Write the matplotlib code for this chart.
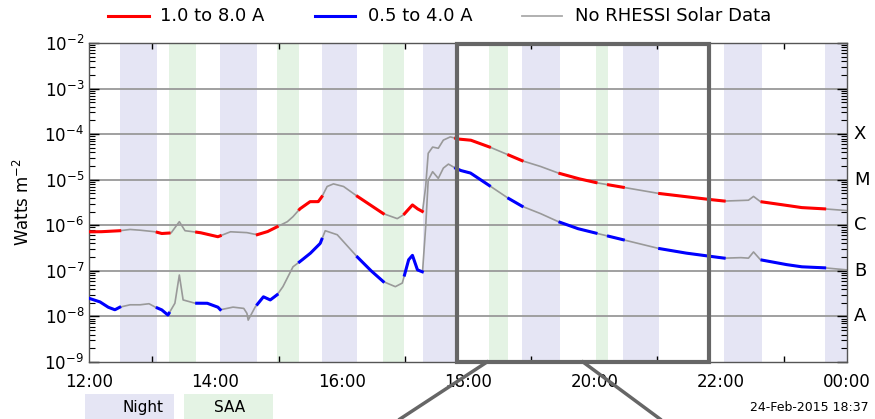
import numpy as np
import matplotlib.pyplot as plt
from matplotlib.ticker import LogLocator, NullFormatter, FixedLocator

# GOES X-ray flux, 24-Feb-2015, hours UT (12 = 12:00, 24 = 00:00)
t_long = [12.00, 12.17, 12.49, 12.65, 12.81, 13.05, 13.15, 13.30, 13.43, 13.52,
          13.76, 14.04, 14.24, 14.50, 14.66, 14.82, 14.98, 15.14, 15.23, 15.34,
          15.50, 15.63, 15.69, 15.77, 15.87, 16.03, 16.25, 16.45, 16.66, 16.88,
          16.98, 17.12, 17.20, 17.28, 17.33, 17.37, 17.44, 17.53, 17.61, 17.72,
          17.85, 18.04, 18.36, 18.64, 18.86, 19.15, 19.43, 19.73, 20.05, 20.46,
          21.02, 21.41, 21.81, 22.06, 22.32, 22.44, 22.52, 22.63, 23.00, 23.27,
          23.63, 24.00]
flux_long = [7.2e-7, 7.2e-7, 7.6e-7, 8.1e-7, 7.8e-7, 7.2e-7, 6.6e-7, 6.8e-7, 1.2e-6, 7.6e-7,
             6.9e-7, 5.6e-7, 7.2e-7, 6.9e-7, 6.2e-7, 7.2e-7, 9.3e-7, 1.2e-6, 1.55e-6, 2.3e-6,
             3.3e-6, 3.3e-6, 4.3e-6, 7.1e-6, 8.1e-6, 7.1e-6, 4.3e-6, 2.8e-6, 1.8e-6, 1.4e-6,
             1.7e-6, 2.8e-6, 2.3e-6, 2.0e-6, 7.1e-6, 3.8e-5, 5.2e-5, 4.9e-5, 7.4e-5, 8.7e-5,
             7.8e-5, 7.4e-5, 5.1e-5, 3.5e-5, 2.6e-5, 1.95e-5, 1.4e-5, 1.07e-5, 8.5e-6, 6.8e-6,
             5.0e-6, 4.3e-6, 3.7e-6, 3.4e-6, 3.5e-6, 3.55e-6, 4.3e-6, 3.3e-6, 2.8e-6, 2.45e-6,
             2.3e-6, 2.1e-6]

t_short = [12.00, 12.17, 12.30, 12.41, 12.49, 12.65, 12.81, 12.95, 13.05, 13.15,
           13.25, 13.36, 13.43, 13.49, 13.68, 13.87, 14.04, 14.08, 14.28, 14.45,
           14.50, 14.52, 14.63, 14.76, 14.87, 14.98, 15.07, 15.23, 15.34, 15.50,
           15.66, 15.74, 15.93, 16.25, 16.45, 16.66, 16.85, 16.96, 17.06, 17.12,
           17.20, 17.28, 17.33, 17.37, 17.44, 17.53, 17.61, 17.69, 17.80, 17.88,
           18.04, 18.36, 18.64, 18.86, 19.15, 19.43, 19.73, 20.05, 20.46, 21.02,
           21.41, 21.81, 22.06, 22.32, 22.44, 22.52, 22.63, 23.00, 23.27, 23.63,
           24.00]
flux_short = [2.5e-8, 2.1e-8, 1.6e-8, 1.4e-8, 1.6e-8, 1.8e-8, 1.8e-8, 1.9e-8, 1.6e-8, 1.4e-8,
              1.07e-8, 1.95e-8, 8.1e-8, 2.3e-8, 1.95e-8, 1.95e-8, 1.6e-8, 1.4e-8, 1.6e-8, 1.5e-8,
              1.17e-8, 8.3e-9, 1.6e-8, 2.7e-8, 2.3e-8, 3.0e-8, 4.5e-8, 1.23e-7, 1.6e-7, 2.4e-7,
              4.0e-7, 7.6e-7, 6.2e-7, 2.0e-7, 1.05e-7, 5.8e-8, 4.5e-8, 5.4e-8, 1.75e-7, 2.2e-7,
              1.05e-7, 9.5e-8, 9.3e-7, 9.8e-6, 1.5e-5, 1.07e-5, 1.8e-5, 2.2e-5, 1.8e-5, 1.6e-5,
              1.4e-5, 7.1e-6, 3.9e-6, 2.6e-6, 1.8e-6, 1.2e-6, 8.5e-7, 6.6e-7, 4.8e-7, 3.1e-7,
              2.5e-7, 2.1e-7, 1.9e-7, 1.95e-7, 1.9e-7, 2.6e-7, 1.75e-7, 1.4e-7, 1.23e-7, 1.17e-7,
              1.05e-7]

# spacecraft night and SAA intervals (hours UT)
night = [(12.49, 13.08), (14.08, 14.66), (15.69, 16.25), (17.28, 17.80),
         (18.86, 19.45), (20.46, 21.03), (22.06, 22.65), (23.65, 24.0)]
saa = [(13.27, 13.70), (14.98, 15.33), (16.66, 16.99), (18.34, 18.64), (20.03, 20.22)]

tick_hours = [12, 14, 16, 18, 20, 22, 24]
tick_labels = ['12:00', '14:00', '16:00', '18:00', '20:00', '22:00', '00:00']
flare_classes = ['X', 'M', 'C', 'B', 'A']
flare_levels = [1e-4, 1e-5, 1e-6, 1e-7, 1e-8]

NIGHT_C = '#e5e5f4'
SAA_C = '#e4f3e4'

fig = plt.figure(figsize=(8.75, 4.19), dpi=100)
ax = fig.add_axes([89 / 875, 57 / 419, 758 / 875, 319 / 419])

for a, b in night:
    ax.axvspan(a, b, color=NIGHT_C, lw=0, zorder=0)
for a, b in saa:
    ax.axvspan(a, b, color=SAA_C, lw=0, zorder=0)

for lev in [1e-3, 1e-4, 1e-5, 1e-6, 1e-7, 1e-8]:
    ax.axhline(lev, color='#999999', lw=1.3, zorder=1)


def in_gap(t):
    t = np.asarray(t)
    m = np.zeros(t.shape, bool)
    for a, b in night + saa:
        m |= (t > a) & (t < b)
    return m


def plot_channel(t, f, color):
    t = np.array(t)
    f = np.array(f)
    ax.plot(t, f, color='#999999', lw=1.2, zorder=2)
    # colour only where RHESSI has data (outside night/SAA)
    tt = np.linspace(t[0], t[-1], 2000)
    ff = 10 ** np.interp(tt, t, np.log10(f))
    ff = np.ma.masked_where(in_gap(tt), ff)
    ax.plot(tt, ff, color=color, lw=2.2, zorder=3)


plot_channel(t_long, flux_long, '#ff0000')
plot_channel(t_short, flux_short, '#0000ff')

ax.set_yscale('log')
ax.set_ylim(1e-9, 1e-2)
ax.set_xlim(12, 24)
ax.set_xticks(tick_hours)
ax.set_xticklabels(tick_labels)
ax.xaxis.set_minor_locator(FixedLocator(np.arange(12, 25, 1)))
ax.yaxis.set_major_locator(LogLocator(base=10, numticks=10))
ax.yaxis.set_minor_locator(LogLocator(base=10, subs=np.arange(2, 10), numticks=20))
ax.yaxis.set_minor_formatter(NullFormatter())
ax.tick_params(axis='y', which='major', direction='in', length=7, width=1,
               left=True, right=True, labelsize=12)
ax.tick_params(axis='y', which='minor', direction='in', length=4, width=0.8,
               left=True, right=True)
ax.tick_params(axis='x', which='both', direction='in', length=4, width=1,
               top=True, bottom=True, labelsize=12, pad=8)
ax.tick_params(axis='x', which='major', length=0)
for s in ax.spines.values():
    s.set_color('#555555')
    s.set_linewidth(1)
ax.set_ylabel('Watts m$^{-2}$', fontsize=12, labelpad=8)

for lab, lev in zip(flare_classes, flare_levels):
    ax.text(1.009, lev, lab, transform=ax.get_yaxis_transform(), fontsize=13,
            va='center', ha='left')

# legend across the top
leg = [(108, 149, '#ff0000', 160, '1.0 to 8.0 A'),
       (315, 355, '#0000ff', 368, '0.5 to 4.0 A'),
       (522, 562, '#aaaaaa', 575, 'No RHESSI Solar Data')]
for x0, x1, c, xt, txt in leg:
    fig.add_artist(plt.Line2D([x0 / 875, x1 / 875], [1 - 16 / 419] * 2,
                              color=c, lw=2.2 if c != '#aaaaaa' else 1.3))
    fig.text(xt / 875, 1 - 16 / 419, txt, fontsize=13, va='center', ha='left')

# Night / SAA key
fig.add_artist(plt.Rectangle((85 / 875, 0), 89 / 875, 25 / 419, color=NIGHT_C, lw=0))
fig.add_artist(plt.Rectangle((184 / 875, 0), 89 / 875, 25 / 419, color=SAA_C, lw=0))
fig.text(143 / 875, 12 / 419, 'Night', fontsize=11, ha='center', va='center')
fig.text(230 / 875, 12 / 419, 'SAA', fontsize=11, ha='center', va='center')
fig.text(869 / 875, 12 / 419, '24-Feb-2015 18:37', fontsize=9, ha='right', va='center')

# zoom callout box
box_c = '#666666'
fig.add_artist(plt.Rectangle((457 / 875, 57 / 419), 252 / 875, 318 / 419,
                             fill=False, ec=box_c, lw=3))
fig.add_artist(plt.Line2D([487 / 875, 400 / 875], [57 / 419, 0], color=box_c, lw=2.5))
fig.add_artist(plt.Line2D([583 / 875, 660 / 875], [57 / 419, 0], color=box_c, lw=2.5))

plt.savefig('out.png', dpi=100)
